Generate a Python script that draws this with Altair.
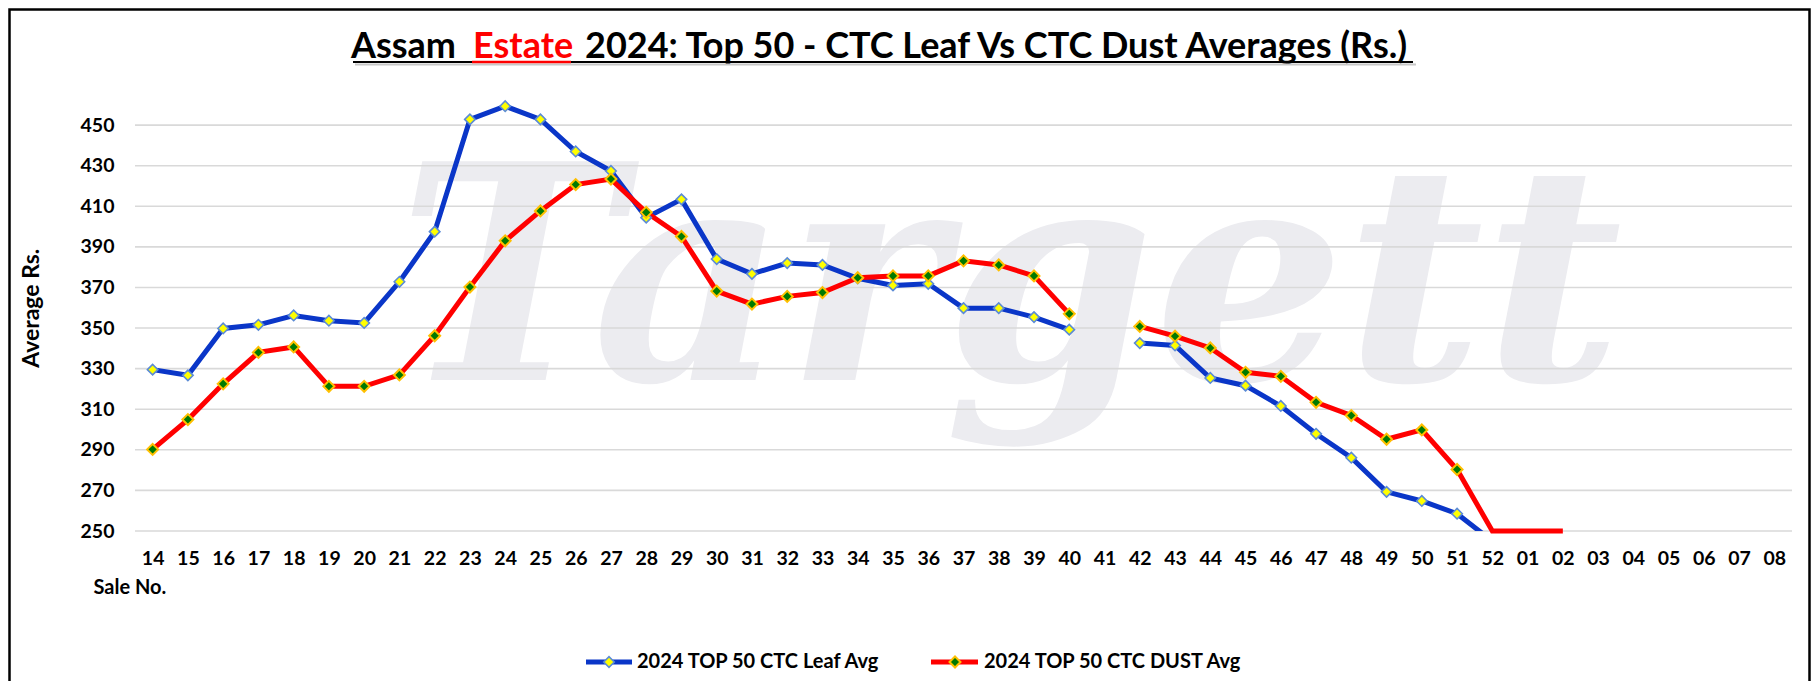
import altair as alt
import pandas as pd

# ---------------- data ----------------
sales = ["14", "15", "16", "17", "18", "19", "20", "21", "22", "23", "24", "25", "26",
         "27", "28", "29", "30", "31", "32", "33", "34", "35", "36", "37", "38", "39",
         "40", "41", "42", "43", "44", "45", "46", "47", "48", "49", "50", "51", "52",
         "01", "02", "03", "04", "05", "06", "07", "08"]

leaf_avg = [329.5, 326.7, 349.8, 351.6, 356.2, 353.6, 352.5, 372.8, 397.5, 452.8,
            459.3, 452.8, 437.0, 427.4, 404.4, 413.4, 384.0, 376.7, 382.0, 381.1,
            374.5, 371.0, 371.8, 359.8, 359.8, 355.4, 349.2, None,
            342.6, 341.4, 325.4, 321.6, 311.6, 297.9, 286.1, 269.3, 264.8, 258.5, 245.0,
            None, None, None, None, None, None, None, None]

dust_avg = [290.2, 304.9, 322.5, 338.0, 340.7, 321.3, 321.3, 326.9, 346.2, 370.2,
            393.0, 407.7, 420.7, 423.4, 407.0, 395.1, 368.2, 361.8, 365.6, 367.5,
            374.8, 375.7, 375.7, 383.1, 381.1, 375.7, 357.0, None,
            350.8, 346.0, 340.2, 328.2, 326.2, 313.4, 306.9, 295.2, 299.8, 280.3, 250.0,
            250.0, 250.0, None, None, None, None, None, None]

y_ticks = [250, 270, 290, 310, 330, 350, 370, 390, 410, 430, 450]
series_names = ["2024 TOP 50 CTC Leaf Avg", "2024 TOP 50 CTC DUST Avg"]


def frame(vals):
    rows = []
    for i, (s, v) in enumerate(zip(sales, vals)):
        if v is None:
            continue
        rows.append({"sale": s, "v": v, "seg": "a" if i < 27 else "b"})
    return pd.DataFrame(rows)


leaf_df = frame(leaf_avg)
dust_df = frame(dust_avg)
grid_df = pd.DataFrame({"v": y_ticks})

# ---------------- style ----------------
FONT = "Lato"
BLUE = "#0a36c8"
RED = "#ff0000"
W, H = 1657, 446.5
OX, OY = 135, 84.5  # plot origin on page

yscale = alt.Scale(domain=[250, 470], nice=False, zero=False)
xscale = alt.Scale(domain=sales)

yaxis = alt.Axis(values=y_ticks, grid=False, ticks=False, domain=False,
                 labelFont=FONT, labelFontSize=19.5, labelFontWeight="bold",
                 labelColor="#000000", labelPadding=21,
                 title="Average Rs.", titleFont=FONT, titleFontSize=23,
                 titleFontWeight="bold", titleColor="#000000",
                 titleAngle=-90, titleX=-104, titleY=H / 2,
                 titleAlign="center", titleBaseline="middle")
xaxis = alt.Axis(grid=False, ticks=False, domain=False, labelAngle=0,
                 labelFont=FONT, labelFontSize=19.5, labelFontWeight="bold",
                 labelColor="#000000", labelPadding=18,
                 title="Sale No.", titleFont=FONT, titleFontSize=20,
                 titleFontWeight="bold", titleColor="#000000",
                 titleX=-42, titleY=56, titleAlign="left", titleBaseline="middle")

X = alt.X("sale:O", scale=xscale, axis=xaxis, sort=sales)
Y = alt.Y("v:Q", scale=yscale, axis=yaxis)

one = pd.DataFrame({"k": [0]})

# watermark
watermark = alt.Chart(one).mark_text(
    text="Targett", font="DejaVu Serif", fontStyle="italic", fontWeight="bold",
    fontSize=300, align="center", baseline="alphabetic", color="#ececf0"
).encode(x=alt.value(1010 - OX), y=alt.value(380 - OY))

grid = alt.Chart(grid_df).mark_rule(color="#d9d9d9", strokeWidth=1.6).encode(y=Y)

leaf_line = alt.Chart(leaf_df).mark_line(color=BLUE, strokeWidth=5, clip=True).encode(
    x=X, y=Y, detail="seg:N")
dust_line = alt.Chart(dust_df).mark_line(color=RED, strokeWidth=5).encode(
    x=X, y=Y, detail="seg:N")

leaf_pts = alt.Chart(leaf_df).transform_filter("datum.v > 250").mark_point(
    shape="diamond", filled=True, fill="#ffff00", stroke="#5b8bd6",
    strokeWidth=1.6, size=110, opacity=1).encode(x=X, y=Y)
dust_pts = alt.Chart(dust_df).transform_filter("datum.v > 250").mark_point(
    shape="diamond", filled=True, fill="#007a00", stroke="#ffc000",
    strokeWidth=2, size=120, opacity=1).encode(x=X, y=Y)

# title (three pieces + underline)
TY = 58 - OY
TFS = 36
title_a = alt.Chart(one).mark_text(text="Assam", font=FONT, fontSize=TFS, fontWeight="bold",
                                   align="right", baseline="alphabetic", color="#000000"
                                   ).encode(x=alt.value(456 - OX), y=alt.value(TY))
title_b = alt.Chart(one).mark_text(text="Estate", font=FONT, fontSize=TFS, fontWeight="bold",
                                   align="left", baseline="alphabetic", color=RED
                                   ).encode(x=alt.value(473 - OX), y=alt.value(TY))
title_c = alt.Chart(one).mark_text(text="2024: Top 50 - CTC Leaf Vs CTC Dust  Averages (Rs.)",
                                   font=FONT, fontSize=TFS, fontWeight="bold",
                                   align="left", baseline="alphabetic", color="#000000"
                                   ).encode(x=alt.value(585 - OX), y=alt.value(TY))
ul_shadow = alt.Chart(one).mark_rule(color="#c8c8c8", strokeWidth=2).encode(
    x=alt.value(355 - OX), x2=alt.value(1416 - OX), y=alt.value(64.5 - OY))
ul_black = alt.Chart(one).mark_rule(color="#000000", strokeWidth=2.2).encode(
    x=alt.value(353 - OX), x2=alt.value(1413 - OX), y=alt.value(62 - OY))
ul_red = alt.Chart(one).mark_rule(color=RED, strokeWidth=2.4).encode(
    x=alt.value(472 - OX), x2=alt.value(571 - OX), y=alt.value(62 - OY))

# legend
LY = 662 - OY
LFS = 20
leg_blue_line = alt.Chart(one).mark_rule(color=BLUE, strokeWidth=5).encode(
    x=alt.value(586 - OX), x2=alt.value(632 - OX), y=alt.value(LY))
leg_blue_pt = alt.Chart(one).mark_point(shape="diamond", filled=True, fill="#ffff00",
                                        stroke="#5b8bd6", strokeWidth=1.6, size=110,
                                        opacity=1).encode(
    x=alt.value(609 - OX), y=alt.value(LY))
leg_blue_txt = alt.Chart(one).mark_text(text=series_names[0], font=FONT, fontSize=LFS,
                                        fontWeight="bold", align="left", baseline="middle",
                                        color="#000000").encode(
    x=alt.value(637 - OX), y=alt.value(LY))
leg_red_line = alt.Chart(one).mark_rule(color=RED, strokeWidth=5).encode(
    x=alt.value(931 - OX), x2=alt.value(978 - OX), y=alt.value(LY))
leg_red_pt = alt.Chart(one).mark_point(shape="diamond", filled=True, fill="#007a00",
                                       stroke="#ffc000", strokeWidth=2, size=120,
                                       opacity=1).encode(
    x=alt.value(955 - OX), y=alt.value(LY))
leg_red_txt = alt.Chart(one).mark_text(text=series_names[1], font=FONT, fontSize=LFS,
                                       fontWeight="bold", align="left", baseline="middle",
                                       color="#000000").encode(
    x=alt.value(984 - OX), y=alt.value(LY))

# outer frame
border = alt.Chart(one).mark_rect(fill="transparent", stroke="#000000", strokeWidth=2.5).encode(
    x=alt.value(9.5 - OX), x2=alt.value(1809.5 - OX),
    y=alt.value(9.5 - OY), y2=alt.value(720 - OY))

chart = alt.layer(
    watermark, grid, leaf_line, dust_line, leaf_pts, dust_pts,
    title_a, title_b, title_c, ul_shadow, ul_black, ul_red,
    leg_blue_line, leg_blue_pt, leg_blue_txt, leg_red_line, leg_red_pt, leg_red_txt,
    border
).properties(
    width=W, height=H,
    autosize=alt.AutoSizeParams(type="none"),
    padding={"left": OX - 8, "top": OY - 8, "right": 19, "bottom": 150},
    background="#ffffff"
).configure_view(stroke=None)

chart.save("out.html", embed_options={"renderer": "svg", "actions": False})
